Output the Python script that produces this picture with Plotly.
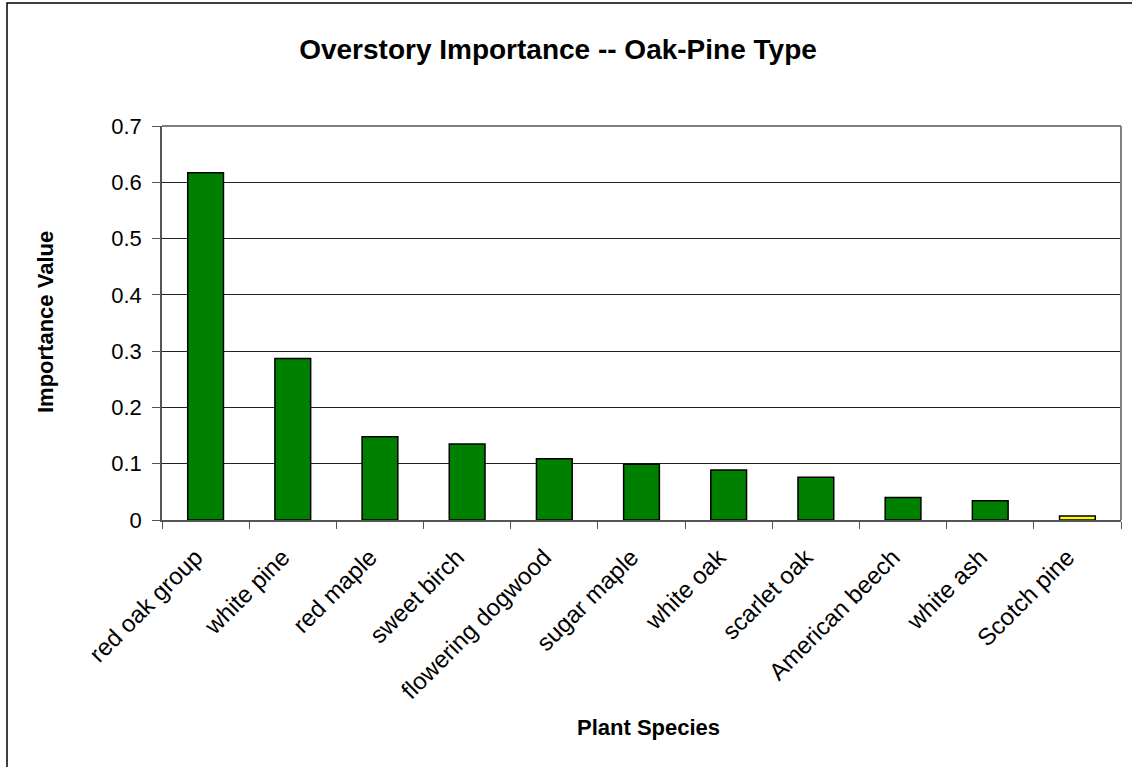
import plotly.graph_objects as go

# Overstory importance values by species (oak-pine type)
species = [
    "red oak group", "white pine", "red maple", "sweet birch",
    "flowering dogwood", "sugar maple", "white oak", "scarlet oak",
    "American beech", "white ash", "Scotch pine",
]
importance = [0.617, 0.287, 0.148, 0.135, 0.109, 0.099, 0.089, 0.076, 0.040, 0.034, 0.007]
bar_colors = ["#008000"] * 10 + ["#FFFF00"]

y_ticks = [0, 0.1, 0.2, 0.3, 0.4, 0.5, 0.6, 0.7]
y_tick_text = ["0", "0.1", "0.2", "0.3", "0.4", "0.5", "0.6", "0.7"]

FONT = "Liberation Sans, Arial, sans-serif"

# plot area in pixels
L, R, T, B = 162, 1121, 126, 520
W, H = 1132, 767
PW, PH = R - L, B - T

fig = go.Figure(
    go.Bar(
        x=species,
        y=importance,
        width=0.41,
        marker=dict(color=bar_colors, line=dict(color="#000000", width=1.5)),
        hoverinfo="x+y",
    )
)

fig.update_layout(
    width=W,
    height=H,
    margin=dict(l=L, r=W - R, t=T, b=H - B),
    paper_bgcolor="#FFFFFF",
    plot_bgcolor="#FFFFFF",
    showlegend=False,
    font=dict(family=FONT, color="#000000"),
    title=dict(
        text="<b>Overstory Importance -- Oak-Pine Type</b>",
        font=dict(family=FONT, size=28, color="#000000"),
        x=558 / W,
        xanchor="center",
        y=1 - 49 / H,
        yanchor="middle",
    ),
    xaxis=dict(
        type="category",
        tickangle=-45,
        tickson="boundaries",
        ticks="outside",
        ticklen=7,
        ticklabelstandoff=12,
        ticklabelshift=-10,
        tickcolor="#555555",
        tickfont=dict(family=FONT, size=24, color="#000000"),
        showline=True,
        linecolor="#555555",
        linewidth=1.5,
        showgrid=False,
    ),
    yaxis=dict(
        range=[0, 0.7],
        tickvals=y_ticks,
        ticktext=y_tick_text,
        ticks="outside",
        ticklen=8,
        ticklabelstandoff=6,
        tickcolor="#555555",
        tickfont=dict(family=FONT, size=22, color="#000000"),
        showline=True,
        linecolor="#555555",
        linewidth=1.5,
        showgrid=True,
        gridcolor="#222222",
        gridwidth=1,
        zeroline=False,
    ),
    annotations=[
        dict(text="<b>Plant Species</b>", xref="paper", yref="paper",
             x=(648 - L) / PW, y=(B - 727) / PH, xanchor="center", yanchor="middle",
             showarrow=False, font=dict(family=FONT, size=22, color="#000000")),
        dict(text="<b>Importance Value</b>", xref="paper", yref="paper",
             x=(45 - L) / PW, y=(B - 322) / PH, xanchor="center", yanchor="middle",
             textangle=-90, showarrow=False,
             font=dict(family=FONT, size=22, color="#000000")),
    ],
    shapes=[
        # gray frame on the top and right of the plotting area
        dict(type="line", xref="paper", yref="paper", x0=0, x1=1, y0=1, y1=1,
             line=dict(color="#808080", width=2)),
        dict(type="line", xref="paper", yref="paper", x0=1, x1=1, y0=0, y1=1,
             line=dict(color="#808080", width=2)),
        # outer chart border
        dict(type="rect", xref="paper", yref="paper",
             x0=(7 - L) / PW, x1=1.2, y0=-1.0, y1=1 + (T - 3) / PH,
             line=dict(color="#000000", width=1.5), layer="below"),
    ],
)

fig.write_html("out.html")
